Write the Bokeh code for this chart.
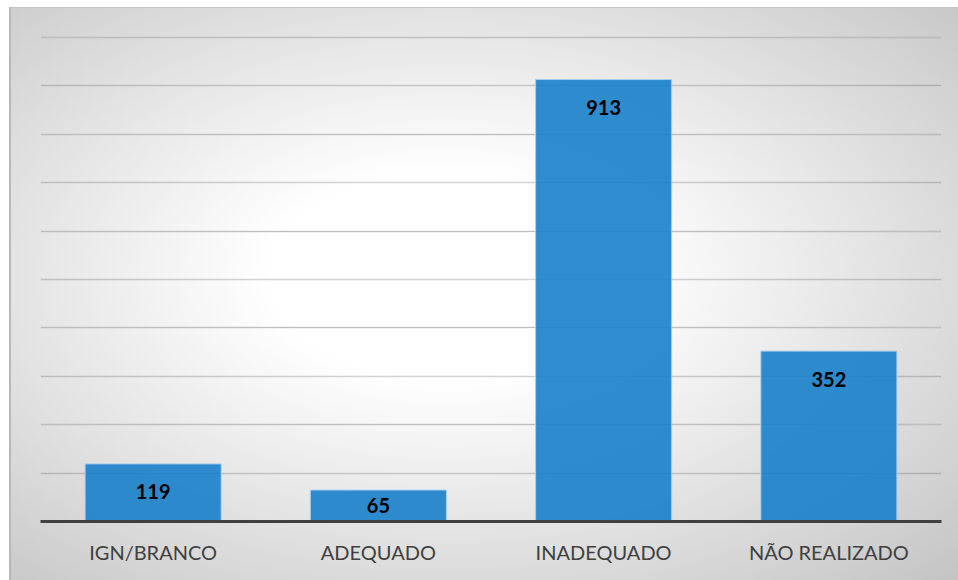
from bokeh.plotting import figure
from bokeh.models import ColumnDataSource, Range1d, Grid, SingleIntervalTicker, FactorRange
from bokeh.core.properties import value
from bokeh.embed import file_html
from bokeh.resources import INLINE

categories = ["IGN/BRANCO", "ADEQUADO", "INADEQUADO", "NÃO REALIZADO"]
counts = [119, 65, 913, 352]
grid_step = 100

label_y = [max(v - 58, v / 2) for v in counts]
source = ColumnDataSource(dict(cat=categories, val=counts, ly=label_y,
                               txt=[str(v) for v in counts]))

bg = ("linear-gradient(#b8b8b8,#b8b8b8) 9px 7px / 2px 100% no-repeat, "
      "linear-gradient(#c4c4c4,#c4c4c4) 9px 7px / 100% 1px no-repeat, "
      "radial-gradient(ellipse farthest-corner at 46% 47%, #ffffff 0%, #ffffff 24%, #c4c4c4 100%) "
      "9px 7px / calc(100% - 9px) calc(100% - 7px) no-repeat, #ffffff")

p = figure(width=958, height=580, x_range=FactorRange(*categories, range_padding=0),
           y_range=Range1d(0, 1004), output_backend="svg", toolbar_location=None,
           y_axis_location=None, min_border_left=40, min_border_right=17,
           min_border_top=35, min_border_bottom=59)
p.styles = {"background": bg}
p.background_fill_alpha = 0
p.border_fill_alpha = 0
p.outline_line_color = None
p.xgrid.visible = False

p.add_layout(Grid(dimension=1, ticker=SingleIntervalTicker(interval=grid_step),
                  grid_line_color="#000000", grid_line_alpha=0.17, grid_line_width=1.5))

p.vbar(x="cat", top="val", width=0.604, source=source, fill_color="#187fca",
       fill_alpha=0.9, line_color="#a8cdee", line_width=1)

p.text(x="cat", y="ly", text="txt", source=source, text_align="center",
       text_baseline="middle", text_font=value("Lato"), text_font_style="bold",
       text_font_size="20px", text_color="#000000")

ax = p.xaxis[0]
ax.axis_line_color = "#404040"
ax.axis_line_width = 3
ax.major_tick_line_color = None
ax.minor_tick_line_color = None
ax.major_label_text_font = "Lato"
ax.major_label_text_font_size = "20px"
ax.major_label_text_color = "#404040"
ax.major_label_standoff = 12

open("out.html", "w").write(file_html(p, INLINE))
